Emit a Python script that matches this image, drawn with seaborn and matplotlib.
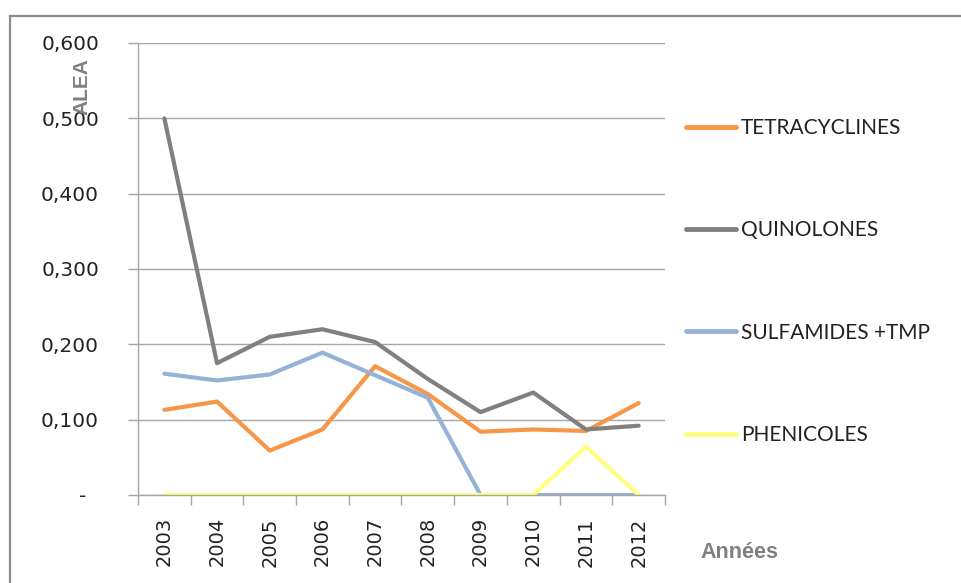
import matplotlib
matplotlib.use("Agg")
import matplotlib.pyplot as plt
import seaborn as sns
import pandas as pd
from matplotlib.patches import Rectangle
from matplotlib.ticker import FixedLocator, FuncFormatter

# Antibiotic exposure (ALEA) per year and family
years = ["2003", "2004", "2005", "2006", "2007", "2008", "2009", "2010", "2011", "2012"]
tetracyclines = [0.113, 0.124, 0.059, 0.087, 0.171, 0.134, 0.084, 0.087, 0.085, 0.122]
quinolones = [0.500, 0.175, 0.210, 0.220, 0.203, 0.154, 0.110, 0.136, 0.087, 0.092]
sulfamides_tmp = [0.161, 0.152, 0.160, 0.189, 0.159, 0.129, 0.0, 0.0, 0.0, 0.0]
phenicoles = [0.0, 0.0, 0.0, 0.0, 0.0, 0.0, 0.0, 0.0, 0.064, 0.0]

series_names = ["TETRACYCLINES", "QUINOLONES", "SULFAMIDES +TMP", "PHENICOLES"]
series_values = [tetracyclines, quinolones, sulfamides_tmp, phenicoles]
series_colors = ["#F79646", "#808080", "#95B3D7", "#FFFF80"]

rows = []
for name, vals in zip(series_names, series_values):
    for i, (yr, v) in enumerate(zip(years, vals)):
        rows.append({"pos": i, "year": yr, "famille": name, "ALEA": v})
df = pd.DataFrame(rows)

sns.set_style("white")
plt.rcParams["font.family"] = ["DejaVu Sans"]

fig = plt.figure(figsize=(9.62, 5.83), dpi=100)
fig.patch.set_facecolor("white")

# outer chart frame (open to the right and bottom)
fig.patches.append(Rectangle((10 / 962, -0.05), 1.2, 1 - 16 / 583 + 0.05,
                             transform=fig.transFigure, fill=False,
                             edgecolor="#8C8C8C", linewidth=1.6, zorder=0))

ax = fig.add_axes([138 / 962, 1 - 495 / 583, 527 / 962, (495 - 43) / 583])

sns.lineplot(data=df, x="pos", y="ALEA", hue="famille", hue_order=series_names,
             palette=dict(zip(series_names, series_colors)), linewidth=3,
             ax=ax, legend=False, sort=False)

ax.set_xlim(-0.5, len(years) - 0.5)
ax.set_ylim(0, 0.6)

# y axis: gridlines every 0.1 with French decimal formatting
ax.set_yticks([0.0, 0.1, 0.2, 0.3, 0.4, 0.5, 0.6])
ax.yaxis.set_major_formatter(FuncFormatter(
    lambda v, p: "-  " if abs(v) < 1e-9 else f"{v:.3f}".replace(".", ",")))
ax.grid(axis="y", color="#A6A6A6", linewidth=1)
ax.set_axisbelow(True)
ax.tick_params(axis="y", which="major", left=True, length=7, width=1,
               color="#A6A6A6", pad=21, labelsize=14.5, labelcolor="#222222")

# x axis: labels centred on categories, tick marks on boundaries
ax.set_xticks(range(len(years)))
ax.set_xticklabels(years, rotation=90, va="top", ha="center")
ax.xaxis.set_minor_locator(FixedLocator([i - 0.5 for i in range(len(years) + 1)]))
ax.tick_params(axis="x", which="major", bottom=True, length=0, pad=16,
               labelsize=14, labelcolor="#222222")
ax.tick_params(axis="x", which="minor", bottom=True, length=7, width=1,
               color="#A6A6A6")

for side in ["top", "right"]:
    ax.spines[side].set_visible(False)
for side in ["left", "bottom"]:
    ax.spines[side].set_color("#A6A6A6")
    ax.spines[side].set_linewidth(1)

ax.set_xlabel("")
ax.set_ylabel("")

fig.text(82 / 962, 1 - 87 / 583, "ALEA", rotation=90, ha="center", va="center",
         fontsize=15, fontweight="bold", color="#808080", family="Liberation Sans")
fig.text(700 / 962, 1 - 552 / 583, "Années", ha="left", va="center",
         fontsize=15.5, fontweight="bold", color="#808080", family="Liberation Sans")

handles = [plt.Line2D([], [], color=c, linewidth=3.5) for c in series_colors]
fig.legend(handles, series_names, loc="upper left",
           bbox_to_anchor=(686 / 962, 1 - 118 / 583), frameon=False,
           borderpad=0, borderaxespad=0, handlelength=2.4, handletextpad=0.25,
           labelspacing=3.95, prop={"family": "Lato", "size": 15},
           labelcolor="#222222")

fig.savefig("out.png", dpi=100, facecolor="white")
